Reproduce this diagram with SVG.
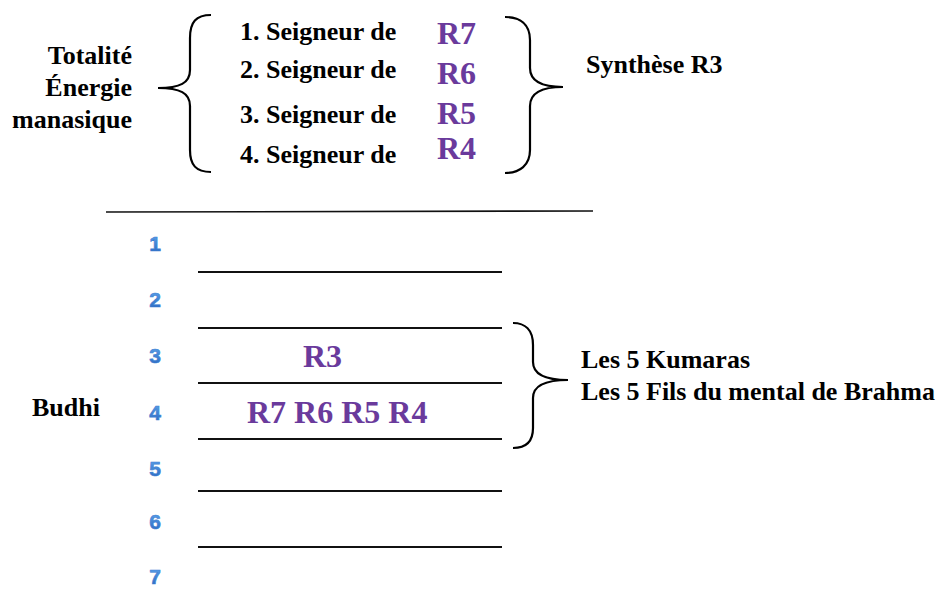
<svg xmlns="http://www.w3.org/2000/svg" width="946" height="597" viewBox="0 0 946 597">
<defs>
<linearGradient id="blue" x1="0" y1="0" x2="0" y2="1">
<stop offset="0" stop-color="#62a8ee"/>
<stop offset="1" stop-color="#2865bd"/>
</linearGradient>
<style>
.t{font-family:"Liberation Serif","Times New Roman",serif;font-weight:bold;font-size:26px;fill:#000}
.r{font-family:"Liberation Serif","Times New Roman",serif;font-weight:bold;font-size:32px;fill:#6a3a9c}
.n{font-family:"Liberation Sans",Arial,sans-serif;font-weight:bold;font-size:21px;fill:url(#blue);stroke:#3d7fd2;stroke-width:0.6;text-anchor:middle}
.ln{stroke:#111;stroke-width:2;fill:none}
.br{stroke:#000;stroke-width:2.2;fill:none}
</style>
</defs>
<rect width="946" height="597" fill="#fff"/>
<g id="left-label">
<text class="t" x="132" y="64" text-anchor="end">Totalité</text>
<text class="t" x="132" y="96" text-anchor="end">Énergie</text>
<text class="t" x="132" y="128" text-anchor="end">manasique</text>
</g>
<g id="lords">
<text class="t" x="240" y="40">1. Seigneur de</text>
<text class="t" x="240" y="78">2. Seigneur de</text>
<text class="t" x="240" y="123">3. Seigneur de</text>
<text class="t" x="240" y="163">4. Seigneur de</text>
<text class="r" x="437" y="44">R7</text>
<text class="r" x="437" y="84">R6</text>
<text class="r" x="437" y="124">R5</text>
<text class="r" x="437" y="159">R4</text>
</g>
<g id="synthese">
<text class="t" x="586" y="73">Synthèse R3</text>
</g>
<g id="braces">
<path class="br" d="M211,15 C196,15 190,22 190,38 L190,70 C190,83 180,88 158,88 C180,88 190,93 190,106 L190,150 C190,165 196,172 211,172"/>
<path class="br" d="M505,17 C520,17 530,24 530,40 L530,68 C530,80 540,87 563,87 C540,87 530,94 530,106 L530,150 C530,165 520,173 505,173"/>
<path class="br" d="M513,323 C525,323 533,330 533,345 L533,362 C533,374 545,380 568,380 C545,380 533,386 533,398 L533,428 C533,442 525,448 513,448"/>
</g>
<g id="lines">
<line class="ln" x1="106" y1="212" x2="593" y2="211" style="stroke-width:1.6"/>
<line class="ln" x1="198" y1="272" x2="502" y2="272"/>
<line class="ln" x1="198" y1="328" x2="502" y2="328"/>
<line class="ln" x1="198" y1="383" x2="502" y2="383"/>
<line class="ln" x1="198" y1="439" x2="502" y2="439"/>
<line class="ln" x1="198" y1="491" x2="502" y2="491"/>
<line class="ln" x1="198" y1="547" x2="502" y2="547"/>
</g>
<g id="numbers">
<text class="n" x="155" y="251">1</text>
<text class="n" x="155" y="307">2</text>
<text class="n" x="155" y="363">3</text>
<text class="n" x="155" y="420">4</text>
<text class="n" x="155" y="476">5</text>
<text class="n" x="155" y="529">6</text>
<text class="n" x="155" y="584">7</text>
</g>
<g id="planes">
<text class="r" x="303" y="367">R3</text>
<text class="r" x="247" y="423">R7 R6 R5 R4</text>
</g>
<g id="budhi">
<text class="t" x="32" y="416">Budhi</text>
</g>
<g id="kumaras">
<text class="t" x="581" y="368">Les 5 Kumaras</text>
<text class="t" x="581" y="400">Les 5 Fils du mental de Brahma</text>
</g>
</svg>
